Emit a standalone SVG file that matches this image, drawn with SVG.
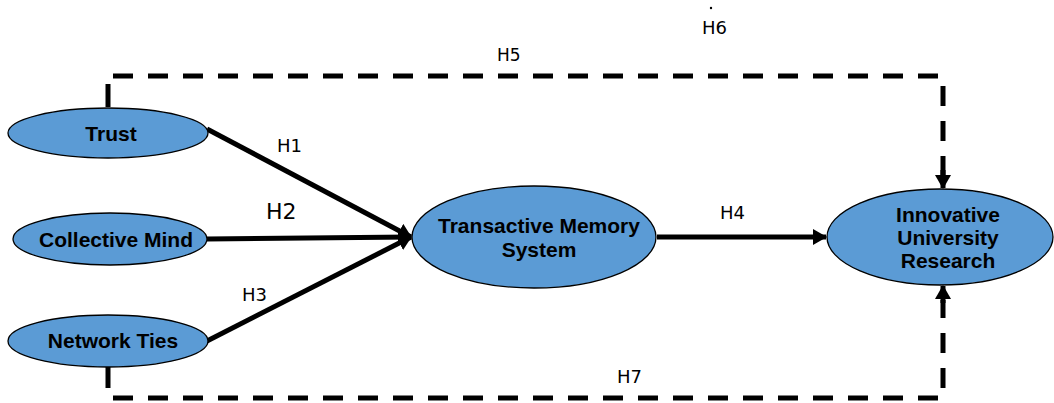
<svg xmlns="http://www.w3.org/2000/svg" width="1054" height="403" viewBox="0 0 1054 403">
<defs>
<style>
.node ellipse{fill:#5b9bd5;stroke:#000;stroke-width:1.3}
.node text{font-family:"Liberation Sans",Arial,sans-serif;font-weight:bold;font-size:21px;fill:#000;text-anchor:middle}
.lbl{font-family:"DejaVu Sans","Liberation Sans",sans-serif;font-size:18px;fill:#000}
.solid{stroke:#000;stroke-width:5;fill:none}
.dash{stroke:#000;stroke-width:5;fill:none;stroke-dasharray:20 15}
</style>
<marker id="ah" markerUnits="userSpaceOnUse" markerWidth="14" markerHeight="16" refX="13" refY="8" orient="auto">
<path d="M0,0 L14,8 L0,16 Z" fill="#000"/>
</marker>
</defs>
<rect width="1054" height="403" fill="#fff"/>
<g id="connectors">
<line class="solid" x1="207" y1="129" x2="411" y2="237" marker-end="url(#ah)"/>
<line class="solid" x1="207" y1="239" x2="411" y2="237" marker-end="url(#ah)"/>
<line class="solid" x1="207" y1="341" x2="411" y2="237" marker-end="url(#ah)"/>
<line class="solid" x1="657" y1="237" x2="826" y2="237" marker-end="url(#ah)"/>
<line class="solid" x1="108" y1="84" x2="108" y2="107"/>
<path class="dash" d="M113,76 H943 V175"/>
<line class="solid" x1="943" y1="170" x2="943" y2="188" marker-end="url(#ah)"/>
<line class="solid" x1="108" y1="366" x2="108" y2="388"/>
<path class="dash" d="M113,398 H943 V300"/>
<line class="solid" x1="943" y1="303" x2="943" y2="286" marker-end="url(#ah)"/>
</g>
<g id="trust" class="node"><ellipse cx="108" cy="133" rx="100" ry="25"/><text x="111" y="141">Trust</text></g>
<g id="collective-mind" class="node"><ellipse cx="110" cy="239" rx="97" ry="26"/><text x="116" y="247">Collective Mind</text></g>
<g id="network-ties" class="node"><ellipse cx="108" cy="341" rx="100" ry="26"/><text x="113" y="348">Network Ties</text></g>
<g id="tms" class="node"><ellipse cx="534" cy="237" rx="122" ry="51"/><text x="539" y="233">Transactive Memory</text><text x="539" y="257">System</text></g>
<g id="iur" class="node"><ellipse cx="940" cy="237" rx="113" ry="48"/><text x="948" y="222">Innovative</text><text x="948" y="245">University</text><text x="948" y="268">Research</text></g>
<g id="labels">
<text class="lbl" x="277" y="152">H1</text>
<text class="lbl" x="266" y="219" style="font-size:22px">H2</text>
<text class="lbl" x="242" y="301">H3</text>
<text class="lbl" x="720" y="219">H4</text>
<text class="lbl" x="497" y="61" style="font-size:17px">H5</text>
<circle cx="711" cy="8" r="1.2" fill="#000"/>
<text class="lbl" x="702" y="34">H6</text>
<text class="lbl" x="617" y="383">H7</text>
</g>
</svg>
